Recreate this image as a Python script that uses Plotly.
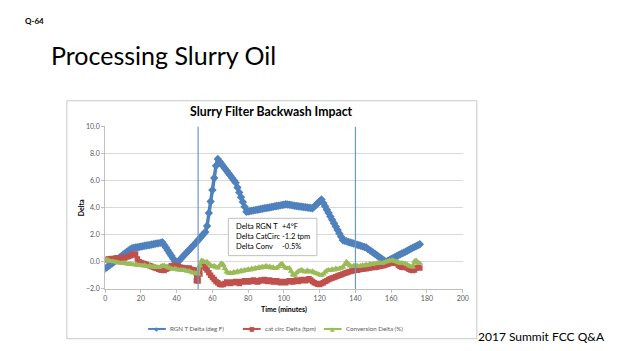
import plotly.graph_objects as go

W, H = 624, 351

# ---------------- data ----------------
time_min = list(range(0, 177))

rgn_t_delta = [
    -0.50, -0.40, -0.30, -0.20, -0.10, 0.00, 0.10, 0.20, 0.30, 0.42, 0.52, 0.62, 0.72, 0.82, 0.92, 1.00,
    1.03, 1.05, 1.08, 1.10, 1.13, 1.15, 1.18, 1.20, 1.23, 1.25, 1.28, 1.30, 1.33, 1.35, 1.38, 1.40, 1.45,
    1.25, 1.05, 0.85, 0.65, 0.45, 0.25, 0.05, -0.10,
    0.04, 0.18, 0.32, 0.46, 0.60, 0.74, 0.88, 1.02, 1.16, 1.30, 1.45, 1.60,
    1.75, 1.90, 2.05, 2.20,
    2.65, 3.60, 4.45, 5.30, 6.20, 7.10, 7.60,
    7.42, 7.25, 7.07, 6.90, 6.72, 6.55, 6.37, 6.20, 6.02, 5.85,
    5.49, 5.13, 4.77, 4.42, 4.06, 3.70,
    3.72, 3.75, 3.77, 3.80, 3.82, 3.85, 3.87, 3.90, 3.92, 3.95, 3.97, 4.00, 4.02, 4.05, 4.07, 4.10,
    4.12, 4.15, 4.17, 4.20, 4.22, 4.25,
    4.23, 4.21, 4.19, 4.17, 4.15, 4.13, 4.11, 4.09, 4.07, 4.05, 4.03, 4.01, 3.99, 3.97, 3.95,
    4.08, 4.21, 4.34, 4.47, 4.60,
    4.35, 4.10, 3.85, 3.60, 3.35, 3.10, 2.85, 2.60, 2.35, 2.10, 1.85, 1.60,
    1.56, 1.52, 1.47, 1.43, 1.39, 1.35, 1.31, 1.26, 1.22, 1.18, 1.14, 1.09, 1.05,
    0.95, 0.86, 0.76, 0.67, 0.57, 0.48, 0.38, 0.29, 0.19, 0.10, 0.00,
    0.07, 0.14, 0.21, 0.27, 0.34, 0.41, 0.48, 0.55, 0.62, 0.68, 0.75, 0.82, 0.89, 0.96, 1.03, 1.10,
    1.16, 1.23, 1.30,
]

cat_circ_delta = [
    0.15, 0.18, 0.20, 0.22, 0.25, 0.22, 0.28, 0.30, 0.26, 0.32,
    0.30, 0.28, 0.35, 0.40, 0.45, 0.55, 0.50, 0.58, 0.20, 0.00,
    -0.05, -0.10, -0.15, -0.20, -0.25, -0.30, -0.35, -0.40, -0.45, -0.50,
    -0.55, -0.60, -0.62, -0.65, -0.55, -0.50, -0.40, -0.30, -0.28, -0.25,
    -0.30, -0.35, -0.40, -0.42, -0.45, -0.48, -0.50, -0.45, -0.55, -0.58,
    -0.60, -1.40, -1.42, -0.90, -0.25, -0.30, -0.45, -0.60, -0.80, -1.00,
    -1.15, -1.30, -1.45, -1.55, -1.65, -1.70, -1.68, -1.60, -1.50, -1.55,
    -1.60, -1.50, -1.55, -1.45, -1.50, -1.60, -1.45, -1.50, -1.40, -1.45,
    -1.50, -1.40, -1.45, -1.35, -1.40, -1.50, -1.45, -1.35, -1.40, -1.30,
    -1.40, -1.45, -1.35, -1.40, -1.50, -1.45, -1.40, -1.50, -1.55, -1.45,
    -1.50, -1.55, -1.45, -1.40, -1.45, -1.50, -1.40, -1.35, -1.45, -1.40,
    -1.30, -1.35, -1.40, -1.30, -1.25, -1.35, -1.45, -1.55, -1.60, -1.65,
    -1.68, -1.60, -1.55, -1.45, -1.40, -1.30, -1.25, -1.20, -1.15, -1.10,
    -1.05, -1.00, -0.95, -0.90, -0.85, -0.80, -0.75, -0.72, -0.68, -0.65,
    -0.60, -0.62, -0.58, -0.55, -0.55, -0.50, -0.52, -0.48, -0.45, -0.42,
    -0.40, -0.42, -0.38, -0.35, -0.32, -0.30, -0.28, -0.22, -0.18, -0.12,
    -0.10, -0.08, -0.05, -0.10, -0.25, -0.35, -0.40, -0.42, -0.40, -0.45,
    -0.55, -0.60, -0.65, -0.60, -0.45, -0.40, -0.45,
]

conversion_delta = [
    0.20, 0.15, 0.10, 0.05, 0.02, 0.00, -0.02, -0.05, -0.08, -0.10,
    -0.12, -0.10, -0.15, -0.18, -0.15, -0.20, -0.22, -0.20, -0.25, -0.25,
    -0.28, -0.30, -0.25, -0.32, -0.35, -0.30, -0.38, -0.35, -0.40, -0.38,
    -0.42, -0.35, -0.30, -0.28, -0.35, -0.40, -0.45, -0.50, -0.55, -0.50,
    -0.55, -0.60, -0.58, -0.62, -0.60, -0.65, -0.70, -0.68, -0.75, -0.80,
    -0.82, -0.85, -0.90, -0.30, 0.10, 0.05, -0.05, 0.00, -0.15, -0.25,
    -0.35, -0.30, -0.40, -0.45, -0.30, -0.10, -0.20, -0.50, -0.75, -0.85,
    -0.80, -0.85, -0.75, -0.80, -0.70, -0.75, -0.65, -0.70, -0.60, -0.65,
    -0.55, -0.60, -0.50, -0.55, -0.45, -0.50, -0.40, -0.45, -0.35, -0.40,
    -0.30, -0.40, -0.35, -0.45, -0.40, -0.50, -0.45, -0.35, -0.20, -0.15,
    -0.35, -0.45, -0.50, -0.45, -0.70, -0.95, -1.00, -0.80, -0.70, -0.65,
    -0.60, -0.70, -0.75, -0.65, -0.70, -0.75, -0.70, -0.80, -0.85, -0.90,
    -0.95, -1.00, -0.90, -0.75, -0.65, -0.60, -0.65, -0.55, -0.60, -0.50,
    -0.55, -0.50, -0.45, -0.40, -0.20, 0.00, -0.15, -0.30, -0.35, -0.30,
    -0.25, -0.30, -0.35, -0.30, -0.25, -0.30, -0.20, -0.25, -0.15, -0.20,
    -0.12, -0.15, -0.10, -0.05, -0.08, -0.10, -0.05, 0.00, 0.05, 0.08,
    0.10, 0.12, 0.05, 0.00, -0.05, -0.10, -0.08, -0.12, -0.15, -0.20,
    -0.30, -0.35, -0.38, 0.05, 0.10, -0.05, -0.10,
]

series_names = ["RGN T Delta (deg F)", "cat circ Delta (tpm)", "Conversion Delta (%)"]
x_ticks = [0, 20, 40, 60, 80, 100, 120, 140, 160, 180, 200]
y_ticks = [-2, 0, 2, 4, 6, 8, 10]
backwash_times = [52, 140]

slide_title = "Processing Slurry Oil"
chart_title = "Slurry Filter Backwash Impact"
box_labels = ["Delta RGN T", "Delta CatCirc", "Delta Conv"]
box_values = ["+4°F", "-1.2 tpm", "-0.5%"]

# ---------------- helpers (pixel -> paper) ----------------
def px(x):
    return x / W

def py(y):
    return 1 - y / H

FONT = "Lato"
BLUE, RED, GREEN = "#4F81BD", "#C0504D", "#9BBB59"
TXT = "#595959"
COLORS = [BLUE, RED, GREEN]
GLYPHS = ["◆", "■", "▲"]

fig = go.Figure()
fig.add_trace(go.Scatter(
    x=time_min, y=rgn_t_delta, mode="lines+markers", name=series_names[0],
    line=dict(color=BLUE, width=3.5),
    marker=dict(symbol="diamond", size=6.5, color=BLUE)))
fig.add_trace(go.Scatter(
    x=time_min, y=cat_circ_delta, mode="lines+markers", name=series_names[1],
    line=dict(color=RED, width=3.5),
    marker=dict(symbol="square", size=5.5, color=RED)))
fig.add_trace(go.Scatter(
    x=time_min, y=conversion_delta, mode="lines+markers", name=series_names[2],
    line=dict(color=GREEN, width=3),
    marker=dict(symbol="triangle-up", size=6, color=GREEN)))

shapes = []
# chart frame
shapes.append(dict(type="rect", xref="paper", yref="paper",
                   x0=px(65.7), x1=px(481), y0=py(341.5), y1=py(98),
                   line=dict(color="#C8C8C8", width=1), fillcolor="rgba(0,0,0,0)", layer="below"))
# backwash vertical lines
for t in backwash_times:
    shapes.append(dict(type="line", xref="x", yref="y", x0=t, x1=t, y0=-2, y1=10,
                       line=dict(color="#6F96C9", width=1.2), layer="above"))
# annotation box
shapes.append(dict(type="rect", xref="paper", yref="paper",
                   x0=px(229.3), x1=px(319), y0=py(256.5), y1=py(218.3),
                   line=dict(color="#BFBFBF", width=1), fillcolor="white", layer="above"))

annotations = [
    dict(text="<b>Q-64</b>", x=px(21), y=py(16), xref="paper", yref="paper",
         xanchor="left", yanchor="middle", showarrow=False,
         font=dict(family=FONT, size=8, color="#000000")),
    dict(text=slide_title, x=px(47.5), y=py(51), xref="paper", yref="paper",
         xanchor="left", yanchor="middle", showarrow=False,
         font=dict(family=FONT, size=25, color="#000000")),
    dict(text="<b>" + chart_title + "</b>", x=px(273.3), y=py(108.5), xref="paper", yref="paper",
         xanchor="center", yanchor="middle", showarrow=False,
         font=dict(family=FONT, size=12.3, color="#000000")),
    dict(text="<b>Time (minutes)</b>", x=px(285.6), y=py(311.5), xref="paper", yref="paper",
         xanchor="center", yanchor="middle", showarrow=False,
         font=dict(family=FONT, size=7, color="#000000")),
    dict(text="<b>Delta</b>", x=px(80), y=py(207), xref="paper", yref="paper",
         xanchor="center", yanchor="middle", showarrow=False, textangle=-90,
         font=dict(family=FONT, size=7, color="#000000")),
    dict(text="2017 Summit FCC Q&A", x=px(480.5), y=py(339.5), xref="paper", yref="paper",
         xanchor="left", yanchor="middle", showarrow=False,
         font=dict(family=FONT, size=12, color="#000000")),
    dict(text="<br>".join(box_labels), x=px(235), y=py(236.5), xref="paper", yref="paper",
         xanchor="left", yanchor="middle", align="left", showarrow=False,
         font=dict(family=FONT, size=7.5, color="#000000")),
    dict(text="<br>".join(box_values), x=px(281.5), y=py(236.5), xref="paper", yref="paper",
         xanchor="left", yanchor="middle", align="left", showarrow=False,
         font=dict(family=FONT, size=7.5, color="#000000")),
]

# manual legend (sample line + glyph + label)
legend_line_x = [(148, 166), (244, 262), (326, 344)]
legend_text_x = [168, 264, 346]
LEG_Y = 331.5
for i in range(3):
    x0, x1 = legend_line_x[i]
    shapes.append(dict(type="line", xref="paper", yref="paper",
                       x0=px(x0), x1=px(x1), y0=py(LEG_Y), y1=py(LEG_Y),
                       line=dict(color=COLORS[i], width=2)))
    annotations.append(dict(text=GLYPHS[i], x=px((x0 + x1) / 2), y=py(LEG_Y), xref="paper", yref="paper",
                            xanchor="center", yanchor="middle", showarrow=False,
                            font=dict(family="DejaVu Sans", size=6, color=COLORS[i])))
    annotations.append(dict(text=series_names[i], x=px(legend_text_x[i]), y=py(LEG_Y), xref="paper",
                            yref="paper", xanchor="left", yanchor="middle", showarrow=False,
                            font=dict(family=FONT, size=6.2, color=TXT)))

fig.update_layout(
    width=W, height=H,
    margin=dict(l=0, r=0, t=0, b=0),
    paper_bgcolor="white", plot_bgcolor="white",
    font=dict(family=FONT, size=7, color=TXT),
    showlegend=False,
    xaxis=dict(domain=[px(104.5), px(466.7)], range=[0, 200], tickvals=x_ticks,
               showgrid=False, zeroline=False, showline=True, linecolor="#BFBFBF", linewidth=1,
               ticks="outside", ticklen=3, tickcolor="#BFBFBF",
               tickfont=dict(family=FONT, size=7, color=TXT), anchor="y"),
    yaxis=dict(domain=[py(290.5), py(124.3)], range=[-2, 10], tickvals=y_ticks, tickformat=".1f",
               showgrid=True, gridcolor="#D9D9D9", gridwidth=1, zeroline=False,
               showline=True, linecolor="#BFBFBF", linewidth=1,
               ticks="outside", ticklen=3, tickcolor="#BFBFBF",
               tickfont=dict(family=FONT, size=7, color=TXT), anchor="x"),
    shapes=shapes,
    annotations=annotations,
)

fig.write_html("out.html")
